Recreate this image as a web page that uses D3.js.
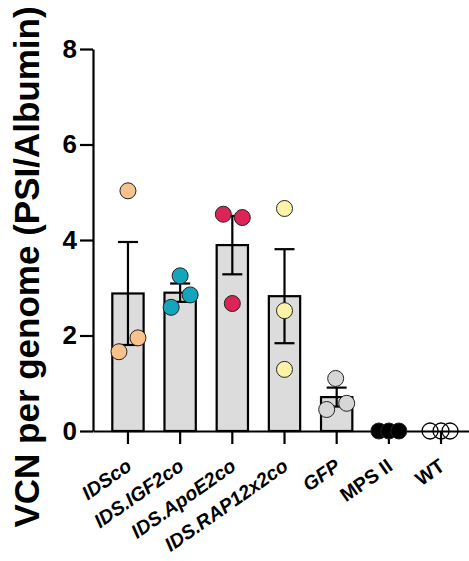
<!DOCTYPE html>
<html>
<head>
<meta charset="utf-8">
<script src="https://cdn.jsdelivr.net/npm/d3@7"></script>
<style>
  body { margin: 0; background: #fff; }
  text { font-family: "Liberation Sans", Arial, sans-serif; font-weight: bold; }
</style>
</head>
<body>
<div id="chart"></div>
<script>
var groups = ["IDSco", "IDS.IGF2co", "IDS.ApoE2co", "IDS.RAP12x2co", "GFP", "MPS II", "WT"];
var italicGroups = ["IDSco", "IDS.IGF2co", "IDS.ApoE2co", "IDS.RAP12x2co", "GFP"];

// each animal's VCN value, per group
var values = [
  [5.03, 1.66, 1.95],
  [3.25, 2.59, 2.85],
  [4.54, 4.47, 2.67],
  [4.66, 2.52, 1.29],
  [1.10, 0.45, 0.58],
  [0, 0, 0],
  [0, 0, 0]
];

var yTicks = [0, 2, 4, 6, 8];

// scatter offset of the dots (px), like prism does
var jitter = [
  [0, -9, 10],
  [0, -9, 10],
  [-9, 10, 0],
  [0, 0, 0],
  [-1, -10, 10],
  [-10, 0, 10],
  [-11, 0, 9]
];
var dotColors = ["#f8c28c", "#14a5be", "#dc2458", "#fbf4a8", "#d6d6d6", "#000000", "none"];

var width = 469, height = 561;

var svg = d3.select("#chart").append("svg")
  .attr("width", width)
  .attr("height", height);

var x = d3.scaleBand()
  .domain(groups)
  .range([93, 476])
  .paddingInner(0.4)
  .paddingOuter(0.37);

var y = d3.scaleLinear()
  .domain([0, 8])
  .range([431, 49]);

var stats = groups.map(function(g, i) {
  var v = values[i];
  var m = d3.mean(v);
  var sem = v.length > 1 ? (d3.deviation(v) || 0) / Math.sqrt(v.length) : 0;
  return {group: g, mean: m, sem: sem, idx: i};
});

// y axis
var yAxis = svg.append("g")
  .attr("transform", "translate(93,0)")
  .call(d3.axisLeft(y).tickValues(yTicks).tickSize(13).tickSizeOuter(0).tickPadding(3));
yAxis.select(".domain").attr("stroke-width", 2.2);
yAxis.selectAll(".tick line").attr("stroke-width", 2.2);
yAxis.selectAll(".tick text")
  .attr("font-size", 26)
  .attr("font-family", "Liberation Sans, Arial, sans-serif")
  .attr("font-weight", "bold")
  .attr("fill", "#000");

// x axis
var xAxis = svg.append("g")
  .attr("transform", "translate(0,431)")
  .call(d3.axisBottom(x).tickSize(13).tickSizeOuter(0));
xAxis.select(".domain").attr("stroke-width", 2.2);
xAxis.selectAll(".tick line").attr("stroke-width", 2.2);
xAxis.selectAll(".tick text")
  .attr("font-size", 19.5)
  .attr("font-family", "Liberation Sans, Arial, sans-serif")
  .attr("font-weight", "bold")
  .attr("font-style", function(d) { return italicGroups.indexOf(d) >= 0 ? "italic" : "normal"; })
  .attr("fill", "#000")
  .attr("text-anchor", "end")
  .attr("dy", null)
  .attr("y", 0)
  .attr("transform", "translate(5,38) rotate(-35)");

// bars
svg.append("g").selectAll("rect")
  .data(stats.filter(function(d) { return d.mean > 0; }))
  .enter().append("rect")
  .attr("x", function(d) { return x(d.group); })
  .attr("y", function(d) { return y(d.mean); })
  .attr("width", x.bandwidth())
  .attr("height", function(d) { return y(0) - y(d.mean); })
  .attr("fill", "#dcdcdc")
  .attr("stroke", "#000")
  .attr("stroke-width", 2.2);

// error bars (mean +/- SEM)
var err = svg.append("g").selectAll("g")
  .data(stats.filter(function(d) { return d.sem > 0; }))
  .enter().append("g")
  .attr("stroke", "#000")
  .attr("stroke-width", 2.2);
err.append("line")
  .attr("x1", function(d) { return x(d.group) + x.bandwidth() / 2; })
  .attr("x2", function(d) { return x(d.group) + x.bandwidth() / 2; })
  .attr("y1", function(d) { return y(d.mean - d.sem); })
  .attr("y2", function(d) { return y(d.mean + d.sem); });
[1, -1].forEach(function(s) {
  err.append("line")
    .attr("x1", function(d) { return x(d.group) + x.bandwidth() / 2 - 10; })
    .attr("x2", function(d) { return x(d.group) + x.bandwidth() / 2 + 10; })
    .attr("y1", function(d) { return y(d.mean + s * d.sem); })
    .attr("y2", function(d) { return y(d.mean + s * d.sem); });
});

// dots
var dots = [];
values.forEach(function(v, i) {
  v.forEach(function(val, j) {
    dots.push({group: groups[i], value: val, off: jitter[i][j], color: dotColors[i]});
  });
});

svg.append("g").selectAll("circle")
  .data(dots)
  .enter().append("circle")
  .attr("cx", function(d) { return x(d.group) + x.bandwidth() / 2 + d.off; })
  .attr("cy", function(d) { return y(d.value); })
  .attr("r", 8)
  .attr("fill", function(d) { return d.color; })
  .attr("stroke", function(d) { return d.color === "none" ? "#000" : "#222"; })
  .attr("stroke-width", function(d) { return d.color === "none" ? 1.3 : 1; });

// y title
svg.append("text")
  .attr("transform", "translate(39,267) rotate(-90)")
  .attr("text-anchor", "middle")
  .attr("font-size", 35)
  .attr("fill", "#000")
  .text("VCN per genome (PSI/Albumin)");
</script>
</body>
</html>
